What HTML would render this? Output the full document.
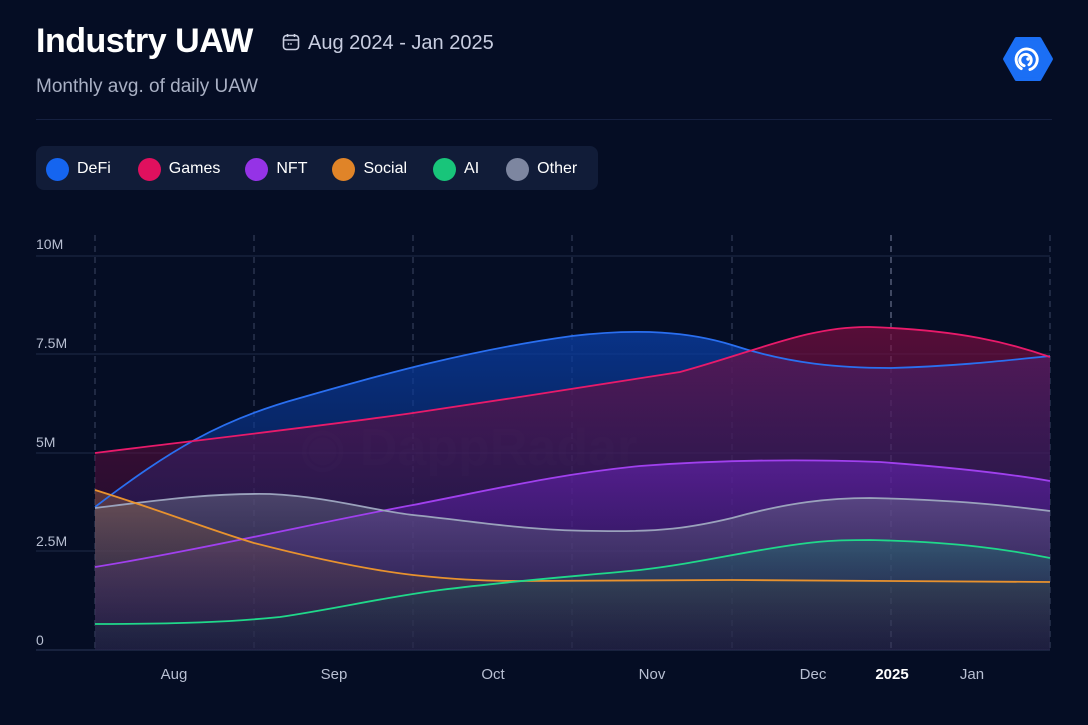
<!DOCTYPE html>
<html><head><meta charset="utf-8"><style>
body{margin:0;width:1088px;height:725px;background:#050d24;font-family:"Liberation Sans",sans-serif;overflow:hidden;position:relative}
.t{position:absolute;color:#fff}
</style></head><body>
<div class="t" style="left:36px;top:22px;font-size:34px;font-weight:bold;letter-spacing:-0.5px">Industry UAW</div>
<svg style="position:absolute;left:282px;top:33px" width="18" height="18" viewBox="0 0 18 18"><rect x="1.5" y="2.5" width="15" height="14" rx="3" fill="none" stroke="#c8cde0" stroke-width="1.6"/><line x1="5.5" y1="1" x2="5.5" y2="4" stroke="#c8cde0" stroke-width="1.6"/><line x1="12.5" y1="1" x2="12.5" y2="4" stroke="#c8cde0" stroke-width="1.6"/><line x1="2" y1="7" x2="16" y2="7" stroke="#c8cde0" stroke-width="1.4"/><circle cx="6.5" cy="11" r=".9" fill="#c8cde0"/><circle cx="9" cy="11" r=".9" fill="#c8cde0"/></svg>
<div class="t" style="left:308px;top:32px;font-size:20px;color:#c8cde0">Aug 2024 - Jan 2025</div>
<div class="t" style="left:36px;top:76px;font-size:19px;color:#a9b0c4">Monthly avg. of daily UAW</div>
<svg style="position:absolute;left:1003px;top:36px" width="50" height="46" viewBox="0 0 52 48"><path d="M14 3H38L50 24L38 45H14L2 24Z" fill="#1b6ff5" stroke="#1b6ff5" stroke-width="4" stroke-linejoin="round"/><path d="M19 34A11 11 0 1 1 28 35" fill="none" stroke="#fff" stroke-width="3" stroke-linecap="round"/><path d="M22 31A6 6 0 1 1 27 30" fill="none" stroke="#fff" stroke-width="3" stroke-linecap="round"/><circle cx="26" cy="24" r="1.8" fill="#fff"/></svg>
<div style="position:absolute;left:36px;top:119px;width:1016px;height:1px;background:#152040"></div>
<div style="position:absolute;left:36px;top:146px;width:562px;height:44px;border-radius:8px;background:#111c38"></div>
<div style="position:absolute;left:46px;top:157px;font-size:16px;color:#fff;display:flex;align-items:center;height:24px">
<span style="width:23px;height:23px;border-radius:50%;background:#1565f0;margin-right:8px"></span>DeFi
<span style="width:23px;height:23px;border-radius:50%;background:#e0105e;margin:0 8px 0 27px"></span>Games
<span style="width:23px;height:23px;border-radius:50%;background:#9533e6;margin:0 8px 0 25px"></span>NFT
<span style="width:23px;height:23px;border-radius:50%;background:#e08428;margin:0 8px 0 25px"></span>Social
<span style="width:23px;height:23px;border-radius:50%;background:#18c57a;margin:0 8px 0 26px"></span>AI
<span style="width:23px;height:23px;border-radius:50%;background:#7d86a0;margin:0 8px 0 27px"></span>Other
</div>
<svg style="position:absolute;left:0;top:0" width="1088" height="725">
<defs>
<linearGradient id="gb" x1="0" y1="0" x2="0" y2="1"><stop offset="0" stop-color="#0a3fa8" stop-opacity=".75"/><stop offset="1" stop-color="#0a2a70" stop-opacity=".2"/></linearGradient>
<linearGradient id="gg" x1="0" y1="0" x2="0" y2="1"><stop offset="0" stop-color="#7a0d40" stop-opacity=".7"/><stop offset="1" stop-color="#3a0d40" stop-opacity=".2"/></linearGradient>
<linearGradient id="gn" x1="0" y1="0" x2="0" y2="1"><stop offset="0" stop-color="#6a22b8" stop-opacity=".6"/><stop offset="1" stop-color="#3a1a70" stop-opacity=".2"/></linearGradient>
<linearGradient id="go" x1="0" y1="0" x2="0" y2="1"><stop offset="0" stop-color="#6a6f88" stop-opacity=".5"/><stop offset="1" stop-color="#303548" stop-opacity=".15"/></linearGradient>
<linearGradient id="gs" x1="0" y1="0" x2="0" y2="1"><stop offset="0" stop-color="#8a5a40" stop-opacity=".5"/><stop offset="1" stop-color="#30303a" stop-opacity=".15"/></linearGradient>
<linearGradient id="ga" x1="0" y1="0" x2="0" y2="1"><stop offset="0" stop-color="#1a7a70" stop-opacity=".45"/><stop offset="1" stop-color="#102a30" stop-opacity=".15"/></linearGradient>
</defs>
<g stroke="#1e2a48" stroke-width="1"><line x1="36" y1="256" x2="1050" y2="256"/><line x1="36" y1="354" x2="1050" y2="354"/><line x1="36" y1="453" x2="1050" y2="453"/><line x1="36" y1="551" x2="1050" y2="551"/><line x1="36" y1="650" x2="1050" y2="650" stroke="#2a3658"/></g>
<g stroke="#3a4562" stroke-dasharray="6,5"><line x1="95" y1="235" x2="95" y2="650"/><line x1="254" y1="235" x2="254" y2="650"/><line x1="413" y1="235" x2="413" y2="650"/><line x1="572" y1="235" x2="572" y2="650"/><line x1="732" y1="235" x2="732" y2="650"/><line x1="891" y1="235" x2="891" y2="650" stroke="#7a84a0"/><line x1="1050" y1="235" x2="1050" y2="650"/></g>
<g font-size="14" fill="#b8bfd2"><text x="36" y="249">10M</text><text x="36" y="348">7.5M</text><text x="36" y="447">5M</text><text x="36" y="546">2.5M</text><text x="36" y="645">0</text></g>
<g font-size="15" fill="#b8bfd2" text-anchor="middle"><text x="174" y="679">Aug</text><text x="334" y="679">Sep</text><text x="493" y="679">Oct</text><text x="652" y="679">Nov</text><text x="813" y="679">Dec</text><text x="892" y="679" fill="#fff" font-weight="bold">2025</text><text x="972" y="679">Jan</text></g>
<text x="300" y="465" font-size="52" font-weight="bold" fill="#fff" fill-opacity=".03">◉ DappRadar</text>
<path d="M95 507C170 450 220 420 300 398C380 375 470 350 572 336C640 328 690 332 732 345C790 364 840 368 891 368C960 366 1010 360 1050 356L1050 650L95 650Z" fill="url(#gb)"/>
<path d="M95 453C200 440 330 425 413 413C500 400 600 385 680 372C760 350 810 326 870 327C960 330 1010 343 1050 357L1050 650L95 650Z" fill="url(#gg)"/>
<path d="M95 567C200 550 330 520 413 505C500 488 560 474 640 466C720 460 800 459 880 462C960 468 1010 474 1050 481L1050 650L95 650Z" fill="url(#gn)"/>
<path d="M95 508C160 500 210 493 270 494C330 497 370 510 413 515C480 522 530 531 600 531C660 532 690 528 732 518C790 502 830 498 870 498C960 500 1010 506 1050 511L1050 650L95 650Z" fill="url(#go)"/>
<path d="M95 490C160 510 210 530 254 543C320 560 370 570 413 575C450 579 480 581 520 581C600 580 680 580 732 580C850 581 960 581 1050 582L1050 650L95 650Z" fill="url(#gs)"/>
<path d="M95 624C180 624 230 622 280 617C340 608 380 598 440 590C520 580 580 576 640 570C700 563 740 552 800 544C830 540 850 540 870 540C960 542 1010 550 1050 558L1050 650L95 650Z" fill="url(#ga)"/>
<g fill="none" stroke-width="1.8">
<path d="M95 507C170 450 220 420 300 398C380 375 470 350 572 336C640 328 690 332 732 345C790 364 840 368 891 368C960 366 1010 360 1050 356" stroke="#2a6ff0"/>
<path d="M95 453C200 440 330 425 413 413C500 400 600 385 680 372C760 350 810 326 870 327C960 330 1010 343 1050 357" stroke="#e81a6a"/>
<path d="M95 567C200 550 330 520 413 505C500 488 560 474 640 466C720 460 800 459 880 462C960 468 1010 474 1050 481" stroke="#a040ee"/>
<path d="M95 508C160 500 210 493 270 494C330 497 370 510 413 515C480 522 530 531 600 531C660 532 690 528 732 518C790 502 830 498 870 498C960 500 1010 506 1050 511" stroke="#9aa2bc"/>
<path d="M95 490C160 510 210 530 254 543C320 560 370 570 413 575C450 579 480 581 520 581C600 580 680 580 732 580C850 581 960 581 1050 582" stroke="#e8922e"/>
<path d="M95 624C180 624 230 622 280 617C340 608 380 598 440 590C520 580 580 576 640 570C700 563 740 552 800 544C830 540 850 540 870 540C960 542 1010 550 1050 558" stroke="#20d88a"/>
</g>
</svg>
</body></html>
